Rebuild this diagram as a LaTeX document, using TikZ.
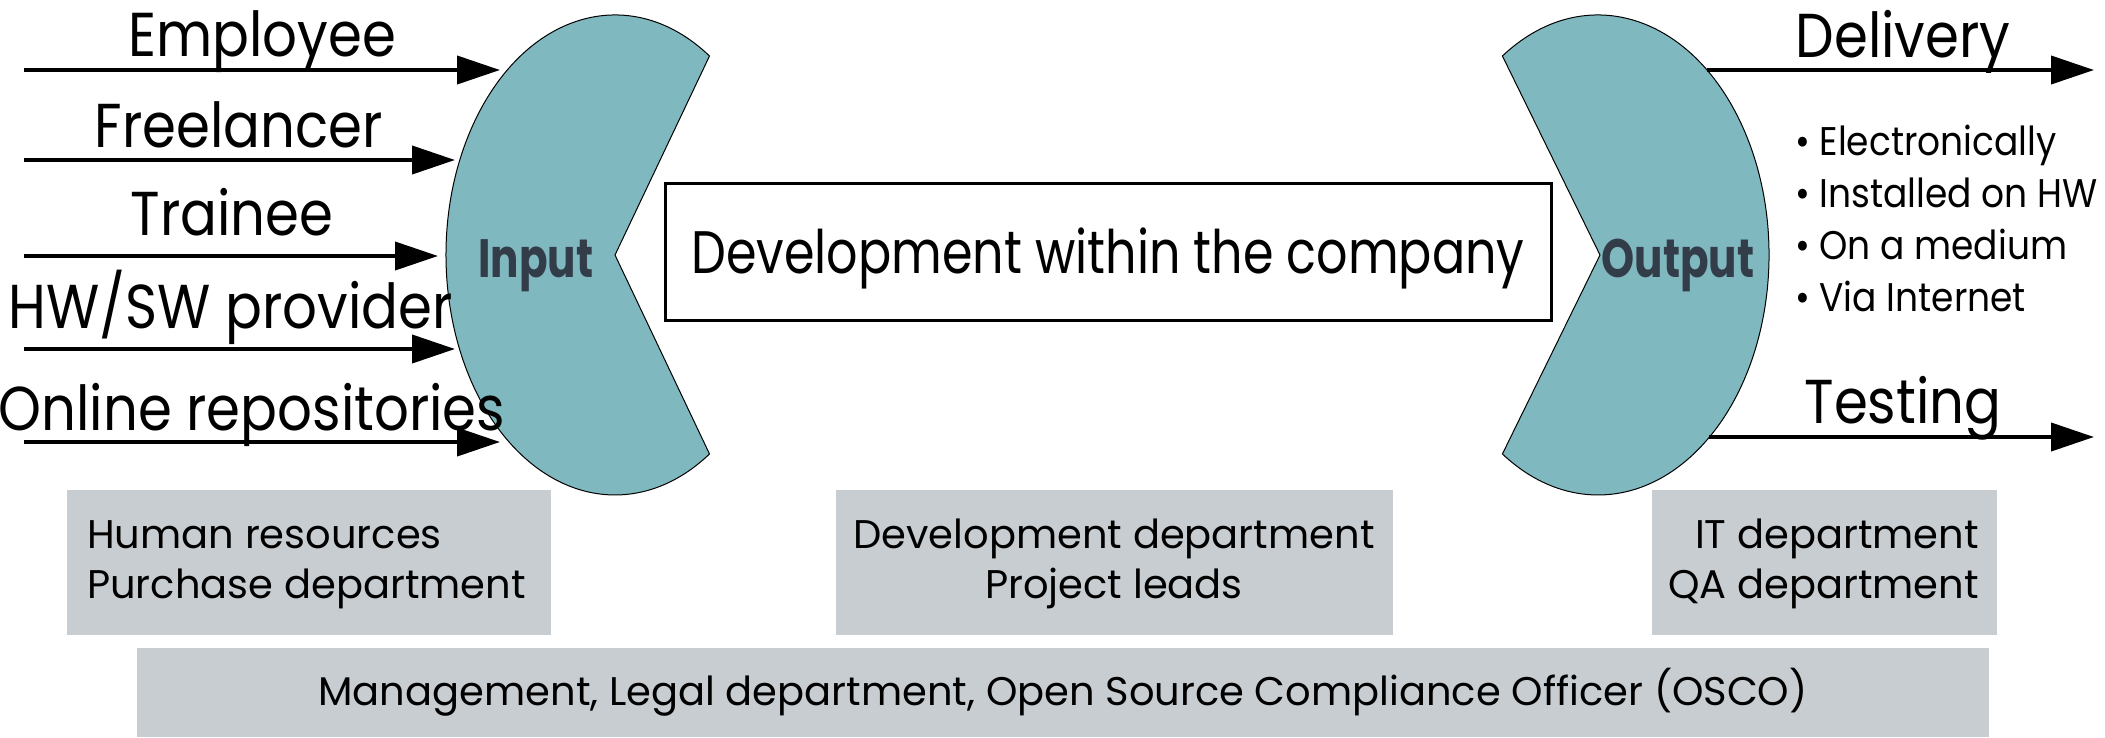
\documentclass[tikz,border=0pt]{standalone}
\usepackage{fontspec}
\setmainfont{Poppins}
\newfontfamily\inpfont[FakeStretch=0.78]{Poppins}
\newfontfamily\lblfont[FakeStretch=0.88]{Poppins}
\newfontfamily\devfont[FakeStretch=0.82]{Poppins}
\newfontfamily\bulfont[FakeStretch=0.9]{Poppins}
\usetikzlibrary{arrows.meta}
\definecolor{blobfill}{HTML}{80B8C0}
\definecolor{boxgray}{HTML}{C8CDD1}
\definecolor{inktext}{HTML}{333D49}
\begin{document}
\begin{tikzpicture}[x=1pt,y=-1pt,
  lbl/.style={font=\lblfont\fontsize{62}{70}\selectfont, anchor=base, inner sep=0pt},
  arr/.style={line width=4pt, -{Triangle[length=43pt,width=28pt]}},
  blob/.style={fill=blobfill, draw=black, line width=1pt},
  gbox/.style={fill=boxgray},
  gtext/.style={font=\fontsize{40}{50}\selectfont, inner sep=0pt},
  bul/.style={font=\bulfont\fontsize{40}{46}\selectfont, anchor=base west, inner sep=0pt},
  io/.style={font=\inpfont\bfseries\fontsize{54}{60}\selectfont, text=inktext, anchor=base, inner sep=0pt}]
\useasboundingbox (0,0) rectangle (2105,737);
% gray boxes
\fill[gbox] (67,490) rectangle (551,635);
\fill[gbox] (836,490) rectangle (1393,635);
\fill[gbox] (1652,490) rectangle (1997,635);
\fill[gbox] (137,648) rectangle (1989,737);
% blobs
\draw[blob] (709.5,56) arc[start angle=56,end angle=304,x radius=169pt,y radius=240pt] -- (615,255) -- cycle;
\draw[blob] (1502.4,56) arc[start angle=124,end angle=-124,x radius=171pt,y radius=240pt] -- (1600,255) -- cycle;
% centre box
\node[draw=black, line width=3pt, minimum width=886pt, minimum height=137pt, inner sep=0pt] (dev) at (1108,251.5) {};
\node[font=\devfont\fontsize{60}{66}\selectfont, anchor=base, inner sep=0pt] (devt) at (1108,273) {Development within the company};
\node[io] (inp) at (536,277) {Input};
\node[io] (outp) at (1678,277) {Output};
% coordinates for arrows
\coordinate (s1) at (24,70);   \coordinate (e1) at (500,70);
\coordinate (s2) at (24,160);  \coordinate (e2) at (455,160);
\coordinate (s3) at (24,256);  \coordinate (e3) at (438,256);
\coordinate (s4) at (24,349);  \coordinate (e4) at (455,349);
\coordinate (s5) at (24,442);  \coordinate (e5) at (500,442);
\coordinate (s6) at (1707,70); \coordinate (e6) at (2094,70);
\coordinate (s7) at (1709,437);\coordinate (e7) at (2094,437);
% left labels
\node[lbl] (l1) at (262,56) {Employee};
\node[lbl] (l2) at (239,147) {Freelancer};
\node[lbl] (l3) at (232,235) {Trainee};
\node[lbl] (l4) at (231,328) {HW/SW provider};
\node[lbl] (l5) at (252,430) {Online repositories};
\foreach \i in {1,...,7} {\draw[arr] (s\i) -- (e\i);}
% right labels
\node[lbl] (r1) at (1903,57) {Delivery};
\node[lbl] (r2) at (1903,423) {Testing};
\node[bul] (b1) at (1795,155) {• Electronically};
\node[bul] (b2) at (1795,207) {• Installed on HW};
\node[bul] (b3) at (1795,259) {• On a medium};
\node[bul] (b4) at (1795,311) {• Via Internet};
% box texts
\node[gtext, anchor=base west] (h1) at (87,548) {Human resources};
\node[gtext, anchor=base west] (h2) at (87,598) {Purchase department};
\node[gtext, anchor=base] (d1) at (1114,548) {Development department};
\node[gtext, anchor=base] (d2) at (1114,598) {Project leads};
\node[gtext, anchor=base east] (q1) at (1979,548) {IT department};
\node[gtext, anchor=base east] (q2) at (1979,598) {QA department};
\node[gtext, anchor=base] (m1) at (1063,705) {Management, Legal department, Open Source Compliance Officer (OSCO)};
\end{tikzpicture}
\end{document}
